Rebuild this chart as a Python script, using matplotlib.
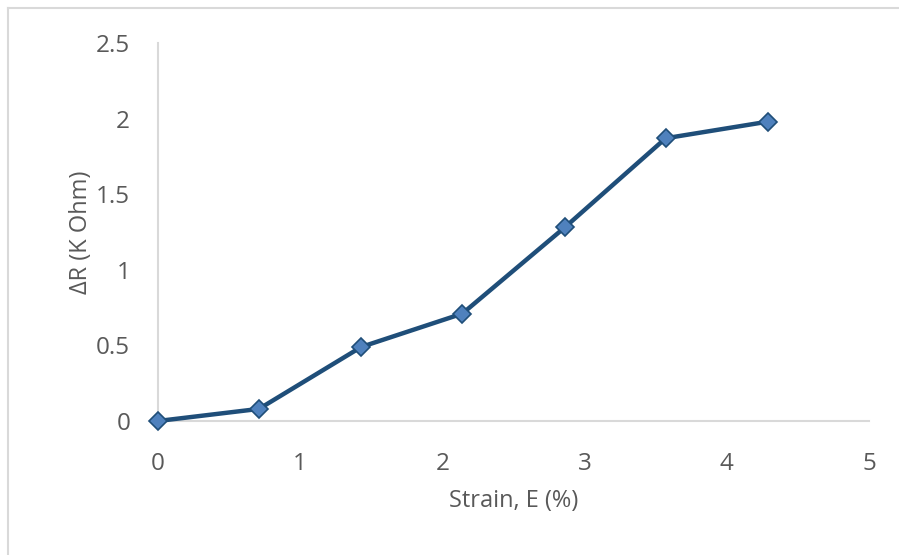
import matplotlib
matplotlib.use("Agg")
import matplotlib.pyplot as plt
from matplotlib.lines import Line2D

plt.rcParams['font.family'] = ['Open Sans', 'DejaVu Sans']

# data
strain = [0, 0.71, 1.43, 2.14, 2.86, 3.57, 4.29]
delta_r = [0, 0.08, 0.49, 0.71, 1.28, 1.87, 1.98]
x_ticks = [0, 1, 2, 3, 4, 5]
y_ticks = [0, 0.5, 1, 1.5, 2, 2.5]
y_tick_labels = ['0', '0.5', '1', '1.5', '2', '2.5']

txt = '#595959'
axis_col = '#D9D9D9'

fig = plt.figure(figsize=(8.99, 5.55), dpi=100)
ax = fig.add_axes([158/899, 1 - 421/555, (869-158)/899, (421-43)/555])

ax.plot(strain, delta_r, color='#1F4E79', lw=3.2, marker='D', markersize=9,
        markerfacecolor='#4F81BD', markeredgecolor='#1F4E79', markeredgewidth=1.2,
        zorder=3, clip_on=False)

ax.set_xlim(0, 5)
ax.set_ylim(0, 2.5)
ax.set_xticks(x_ticks)
ax.set_yticks(y_ticks)
ax.set_yticklabels(y_tick_labels)
ax.tick_params(length=0, labelsize=17.5, colors=txt)
ax.tick_params(axis='y', pad=20)
ax.tick_params(axis='x', pad=22)

for s in ['top', 'right']:
    ax.spines[s].set_visible(False)
for s in ['left', 'bottom']:
    ax.spines[s].set_color(axis_col)
    ax.spines[s].set_linewidth(1.5)

ax.set_xlabel('Strain, E (%)', fontsize=17, color=txt, labelpad=10)
ax.set_ylabel('ΔR (K Ohm)', fontsize=17, color=txt, labelpad=2)

# chart-area border (only top and left edges visible)
fig.add_artist(Line2D([8/899, 1], [1 - 8/555, 1 - 8/555], color=axis_col, lw=1.5))
fig.add_artist(Line2D([8/899, 8/899], [0, 1 - 8/555], color=axis_col, lw=1.5))

fig.savefig('out.png', dpi=100)
